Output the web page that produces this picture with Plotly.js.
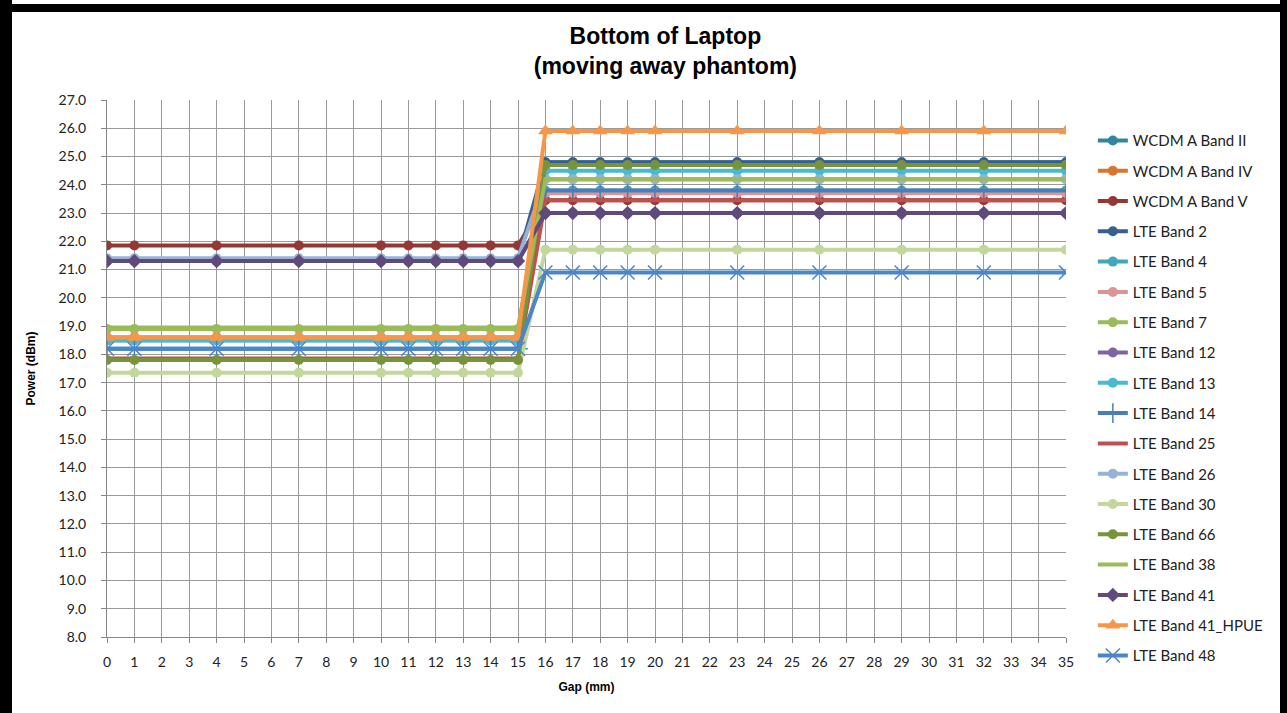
<!DOCTYPE html>
<html>
<head>
<meta charset="utf-8">
<script src="https://cdn.plot.ly/plotly-3.0.1.min.js"></script>
<style>
  html, body { margin: 0; padding: 0; background: #ffffff; }
  #wrap { position: relative; width: 1287px; height: 713px; overflow: hidden; background: #ffffff; }
  #chart { position: absolute; left: 0; top: 0; width: 1287px; height: 713px; }
  .bar { position: absolute; background: #000000; pointer-events: none; z-index: 10; }
</style>
</head>
<body>
<div id="wrap">
  <div id="chart"></div>
  <div class="bar" style="left:0;top:4px;width:1287px;height:8px;"></div>
  <div class="bar" style="left:0;top:0;width:12px;height:713px;"></div>
  <div class="bar" style="left:1280px;top:0;width:7px;height:713px;"></div>
</div>
<script>
// Gap (mm) positions where measurements were taken
const gaps = [0, 1, 4, 7, 10, 11, 12, 13, 14, 15, 16, 17, 18, 19, 20, 23, 26, 29, 32, 35];

// Power (dBm) per band
const wcdmaBand2  = [18.5, 18.5, 18.5, 18.5, 18.5, 18.5, 18.5, 18.5, 18.5, 18.5, 24.8, 24.8, 24.8, 24.8, 24.8, 24.8, 24.8, 24.8, 24.8, 24.8];
const wcdmaBand4  = [18.6, 18.6, 18.6, 18.6, 18.6, 18.6, 18.6, 18.6, 18.6, 18.6, 24.7, 24.7, 24.7, 24.7, 24.7, 24.7, 24.7, 24.7, 24.7, 24.7];
const wcdmaBand5  = [21.85, 21.85, 21.85, 21.85, 21.85, 21.85, 21.85, 21.85, 21.85, 21.85, 23.45, 23.45, 23.45, 23.45, 23.45, 23.45, 23.45, 23.45, 23.45, 23.45];
const lteBand2    = [21.35, 21.35, 21.35, 21.35, 21.35, 21.35, 21.35, 21.35, 21.35, 21.35, 24.8, 24.8, 24.8, 24.8, 24.8, 24.8, 24.8, 24.8, 24.8, 24.8];
const lteBand4    = [18.5, 18.5, 18.5, 18.5, 18.5, 18.5, 18.5, 18.5, 18.5, 18.5, 23.8, 23.8, 23.8, 23.8, 23.8, 23.8, 23.8, 23.8, 23.8, 23.8];
const lteBand5    = [18.6, 18.6, 18.6, 18.6, 18.6, 18.6, 18.6, 18.6, 18.6, 18.6, 23.7, 23.7, 23.7, 23.7, 23.7, 23.7, 23.7, 23.7, 23.7, 23.7];
const lteBand7    = [18.9, 18.9, 18.9, 18.9, 18.9, 18.9, 18.9, 18.9, 18.9, 18.9, 24.2, 24.2, 24.2, 24.2, 24.2, 24.2, 24.2, 24.2, 24.2, 24.2];
const lteBand12   = [21.3, 21.3, 21.3, 21.3, 21.3, 21.3, 21.3, 21.3, 21.3, 21.3, 23.0, 23.0, 23.0, 23.0, 23.0, 23.0, 23.0, 23.0, 23.0, 23.0];
const lteBand13   = [18.5, 18.5, 18.5, 18.5, 18.5, 18.5, 18.5, 18.5, 18.5, 18.5, 24.5, 24.5, 24.5, 24.5, 24.5, 24.5, 24.5, 24.5, 24.5, 24.5];
const lteBand14   = [18.2, 18.2, 18.2, 18.2, 18.2, 18.2, 18.2, 18.2, 18.2, 18.2, 23.8, 23.8, 23.8, 23.8, 23.8, 23.8, 23.8, 23.8, 23.8, 23.8];
const lteBand25   = [17.85, 17.85, 17.85, 17.85, 17.85, 17.85, 17.85, 17.85, 17.85, 17.85, 23.45, 23.45, 23.45, 23.45, 23.45, 23.45, 23.45, 23.45, 23.45, 23.45];
const lteBand26   = [21.4, 21.4, 21.4, 21.4, 21.4, 21.4, 21.4, 21.4, 21.4, 21.4, 24.2, 24.2, 24.2, 24.2, 24.2, 24.2, 24.2, 24.2, 24.2, 24.2];
const lteBand30   = [17.35, 17.35, 17.35, 17.35, 17.35, 17.35, 17.35, 17.35, 17.35, 17.35, 21.7, 21.7, 21.7, 21.7, 21.7, 21.7, 21.7, 21.7, 21.7, 21.7];
const lteBand66   = [17.8, 17.8, 17.8, 17.8, 17.8, 17.8, 17.8, 17.8, 17.8, 17.8, 24.7, 24.7, 24.7, 24.7, 24.7, 24.7, 24.7, 24.7, 24.7, 24.7];
const lteBand38   = [18.95, 18.95, 18.95, 18.95, 18.95, 18.95, 18.95, 18.95, 18.95, 18.95, 24.2, 24.2, 24.2, 24.2, 24.2, 24.2, 24.2, 24.2, 24.2, 24.2];
const lteBand41   = [21.3, 21.3, 21.3, 21.3, 21.3, 21.3, 21.3, 21.3, 21.3, 21.3, 23.0, 23.0, 23.0, 23.0, 23.0, 23.0, 23.0, 23.0, 23.0, 23.0];
const lteBand41H  = [18.6, 18.6, 18.6, 18.6, 18.6, 18.6, 18.6, 18.6, 18.6, 18.6, 25.9, 25.9, 25.9, 25.9, 25.9, 25.9, 25.9, 25.9, 25.9, 25.9];
const lteBand48   = [18.2, 18.2, 18.2, 18.2, 18.2, 18.2, 18.2, 18.2, 18.2, 18.2, 20.9, 20.9, 20.9, 20.9, 20.9, 20.9, 20.9, 20.9, 20.9, 20.9];

const seriesNames = ["WCDM A Band II", "WCDM A Band IV", "WCDM A Band V", "LTE Band 2", "LTE Band 4",
  "LTE Band 5", "LTE Band 7", "LTE Band 12", "LTE Band 13", "LTE Band 14", "LTE Band 25",
  "LTE Band 26", "LTE Band 30", "LTE Band 66", "LTE Band 38", "LTE Band 41", "LTE Band 41_HPUE", "LTE Band 48"];
const seriesValues = [wcdmaBand2, wcdmaBand4, wcdmaBand5, lteBand2, lteBand4, lteBand5, lteBand7, lteBand12,
  lteBand13, lteBand14, lteBand25, lteBand26, lteBand30, lteBand66, lteBand38, lteBand41, lteBand41H, lteBand48];

const xTickLabels = Array.from({length: 36}, (_, i) => String(i));

// styles
const colors = ["#31859C", "#D6772F", "#953735", "#376092", "#3EA7BE", "#D99694", "#9BBB59", "#8064A2",
  "#4BB8D2", "#4A7EBB", "#C0504D", "#95B3D7", "#C3D69B", "#77933C", "#9BBB59", "#604A7B", "#F79646", "#4A86C8"];
const symbols = ["circle", "circle", "circle", "circle", "circle", "circle", "circle", "circle", "circle",
  "cross-thin-open", null, "circle", "circle", "circle", null, "diamond", "triangle-up", "x-thin-open"];

const traces = seriesNames.map((name, i) => {
  const sym = symbols[i];
  const t = {
    type: "scatter",
    x: gaps,
    y: seriesValues[i],
    name: name,
    legendgroup: "g" + i,
    mode: sym ? "lines+markers" : "lines",
    line: {color: colors[i], width: 4},
    hoverinfo: "x+y+name"
  };
  if (sym) {
    if (sym.indexOf("thin") >= 0) {
      t.marker = {symbol: sym, size: 14, color: colors[i], line: {color: colors[i], width: 1.5}};
    } else if (sym === "triangle-up") {
      t.marker = {symbol: sym, size: 13, color: colors[i], line: {width: 0}};
    } else if (sym === "diamond") {
      t.marker = {symbol: sym, size: 11, color: colors[i], line: {width: 0}};
    } else {
      t.marker = {symbol: sym, size: 10, color: colors[i], line: {width: 0}};
    }
  }
  return t;
});

const tickFont = {family: "Lato, 'Open Sans', sans-serif", size: 14, color: "#222222"};

const layout = {
  width: 1287,
  height: 713,
  paper_bgcolor: "rgba(0,0,0,0)",
  plot_bgcolor: "#ffffff",
  margin: {l: 107, r: 221, t: 100, b: 76},
  showlegend: true,
  title: {
    text: "<b>Bottom of Laptop<br>(moving away phantom)</b>",
    font: {family: "'Liberation Sans', Arial, sans-serif", size: 23, color: "#000000"},
    x: 0.517,
    xanchor: "center",
    yref: "container",
    y: 1 - 44 / 713,
    yanchor: "bottom"
  },
  xaxis: {
    range: [0, 35],
    tickmode: "array",
    tickvals: xTickLabels.map(Number),
    ticktext: xTickLabels,
    showgrid: true,
    gridcolor: "#9a9a9a",
    gridwidth: 1,
    showline: true,
    linecolor: "#868686",
    linewidth: 1,
    ticks: "outside",
    ticklen: 5,
    tickcolor: "#868686",
    tickfont: tickFont,
    ticklabelstandoff: 7,
    zeroline: false,
    fixedrange: true,
    title: {text: "<b>Gap (mm)</b>", font: {family: "'Liberation Sans', Arial, sans-serif", size: 12, color: "#000000"}, standoff: 13}
  },
  yaxis: {
    range: [8, 27],
    dtick: 1,
    tick0: 8,
    tickformat: ".1f",
    showgrid: true,
    gridcolor: "#9a9a9a",
    gridwidth: 1,
    showline: true,
    linecolor: "#868686",
    linewidth: 1,
    ticks: "outside",
    ticklen: 5,
    tickcolor: "#868686",
    tickfont: tickFont,
    ticklabelstandoff: 12,
    zeroline: false,
    fixedrange: true,
    title: {text: "<b>Power (dBm)</b>", font: {family: "'Liberation Sans', Arial, sans-serif", size: 12, color: "#000000"}, standoff: 20}
  },
  legend: {
    x: 1.028,
    xanchor: "left",
    y: 0.955,
    yanchor: "top",
    traceorder: "grouped",
    tracegroupgap: 7.8,
    maxheight: 700,
    font: {family: "Lato, 'Open Sans', sans-serif", size: 15, color: "#222222"},
    bgcolor: "rgba(0,0,0,0)",
    itemwidth: 30
  },
  hovermode: "closest"
};

Plotly.newPlot("chart", traces, layout, {displayModeBar: false, staticPlot: false});
</script>
</body>
</html>
